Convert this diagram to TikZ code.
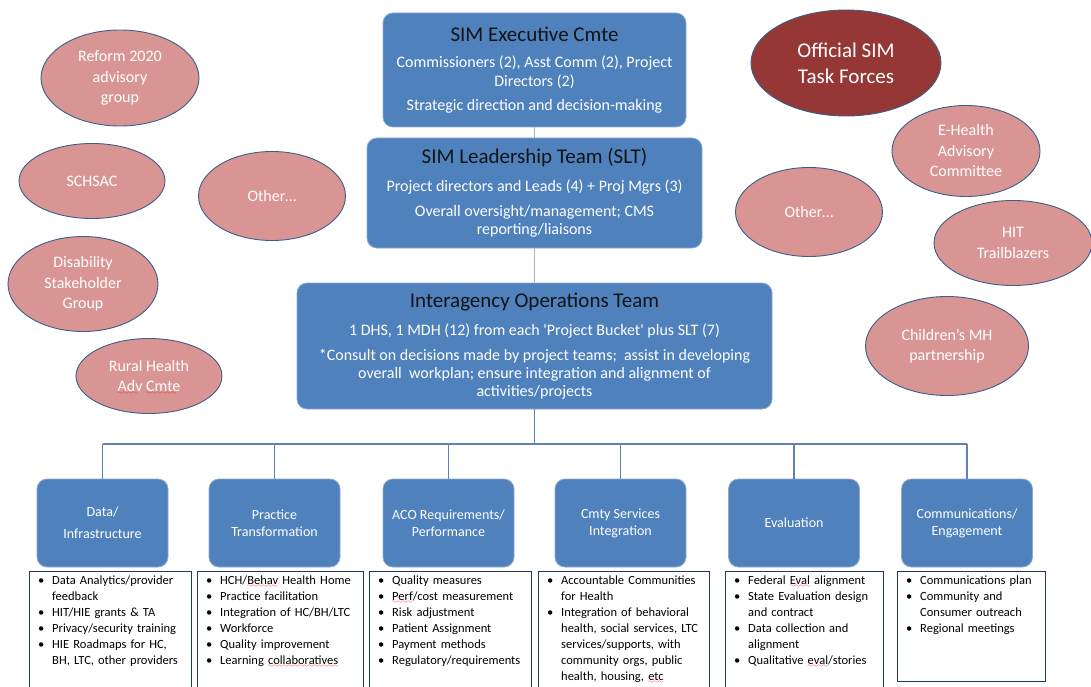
\documentclass[tikz,border=0pt]{standalone}
\usepackage{fontspec}
\setmainfont{Carlito}
\usetikzlibrary{shapes.geometric}
\definecolor{boxblue}{HTML}{4F81BD}
\definecolor{boxedge}{HTML}{8FA8CF}
\definecolor{ovalpink}{HTML}{D99594}
\definecolor{ovaledge}{HTML}{3A5F8B}
\definecolor{taskred}{HTML}{953735}
\definecolor{listedge}{HTML}{22385C}
\definecolor{connblue}{HTML}{5F82B4}
\definecolor{connpale}{HTML}{A3B5CF}
\definecolor{titlecol}{HTML}{141414}
\font\wavefont=lasy6
\newcommand\sperr[1]{\setbox0\hbox{#1}\rlap{\raisebox{-3pt}[0pt][0pt]{\textcolor{red}{\hbox to\wd0{\leaders\hbox{\wavefont\char58}\hfil}}}}#1}
\newcommand\bi[1]{\par\noindent\hangindent=14pt\hangafter=1\makebox[14pt][l]{\textbullet}#1}
\newcommand\titlef{\fontsize{21}{25}\selectfont\color{titlecol}}
\tikzset{
  topbox/.style={draw=boxedge, fill=boxblue, rounded corners=10pt, line width=0.8pt,
    align=center, text=white, inner sep=0pt},
  catbox/.style={draw=boxedge, fill=boxblue, rounded corners=10pt, line width=0.8pt,
    minimum width=131pt, minimum height=88pt, align=center, text=white,
    inner sep=0pt, font=\fontsize{14}{17}\selectfont},
  oval/.style={ellipse, draw=ovaledge, fill=ovalpink, line width=0.9pt, text=white,
    align=center, inner sep=0pt, font=\fontsize{16}{20.5}\selectfont},
  taskoval/.style={oval, fill=taskred, font=\fontsize{21}{26}\selectfont},
  listbox/.style={draw=listedge, line width=1.2pt, anchor=north west, inner sep=0pt, fill=white},
  listtext/.style={anchor=north west, inner sep=0pt, text width=#1, align=left,
    font=\fontsize{12.5}{16}\selectfont},
  conn/.style={draw=connblue, line width=1.6pt},
  connlight/.style={draw=connpale, line width=1.6pt},
}
\begin{document}
\begin{tikzpicture}[x=1pt,y=-1pt]
\useasboundingbox (0,0) rectangle (1091,687);
\clip (0,0) rectangle (1091,687);
\fill[white] (0,0) rectangle (1091,687);

% top boxes
\node[topbox, minimum width=303pt, minimum height=114pt, font=\fontsize{16}{19.5}\selectfont] (exec) at (534.5,70)
  {{\titlef SIM Executive Cmte}\\[6.5pt]
   Commissioners (2), Asst Comm (2), Project\\
   Directors (2)\\[4.5pt]
   Strategic direction and decision-making};
\node[topbox, minimum width=335pt, minimum height=110pt, font=\fontsize{16}{18}\selectfont] (slt) at (534.5,193)
  {{\titlef SIM Leadership Team (SLT)}\\[10pt]
   Project directors and Leads (4) + Proj Mgrs (3)\\[7pt]
   Overall oversight/management; CMS\\
   reporting/liaisons};
\node[topbox, minimum width=475pt, minimum height=126pt, font=\fontsize{16}{18}\selectfont] (iot) at (534.5,346)
  {{\titlef Interagency Operations Team}\\[10pt]
   1 DHS, 1 MDH (12) from each \textquotesingle Project Bucket\textquotesingle\ plus SLT (7)\\[7pt]
   *Consult on decisions made by project teams; \ assist in developing\\
   overall \ workplan; ensure integration and alignment of\\
   activities/projects};

% connectors between top boxes
\draw[connlight] (exec.south) -- (slt.north);
\draw[connlight] (slt.south) -- (iot.north);

% category boxes
\node[catbox] (data) at (102.5,523) {Data/\\[5pt]Infrastructure};
\node[catbox] (prac) at (274.5,523) {Practice\\Transformation};
\node[catbox] (aco)  at (448.5,523) {ACO Requirements/\\Performance};
\node[catbox] (cmty) at (620.5,523) {Cmty Services\\Integration};
\node[catbox] (eval) at (794,523)   {Evaluation};
\node[catbox] (comm) at (967,523)   {Communications/\\Engagement};

% bus
\coordinate (bus) at (534.5,444);
\draw[conn] (iot.south) -- (iot.south |- bus);
\draw[conn] (data.north |- bus) -- (comm.north |- bus);
\foreach \c in {data,prac,aco,cmty,eval,comm}
  \draw[conn] (\c.north |- bus) -- (\c.north);

% list boxes
\node[listbox, minimum width=162pt, minimum height=130pt] (l1) at (29,571) {};
\node[listbox, minimum width=166pt, minimum height=130pt] (l2) at (197,571) {};
\node[listbox, minimum width=162pt, minimum height=130pt] (l3) at (369,571) {};
\node[listbox, minimum width=171pt, minimum height=130pt] (l4) at (538,571) {};
\node[listbox, minimum width=158pt, minimum height=130pt] (l5) at (725,571) {};
\node[listbox, minimum width=148pt, minimum height=110pt] (l6) at (897,571) {};

\node[listtext=160pt] (t1) at ([xshift=9pt,yshift=3pt]l1.north west)
  {\bi{Data Analytics/provider\newline feedback}
   \bi{HIT/HIE grants \& TA}
   \bi{Privacy/security training}
   \bi{HIE Roadmaps for HC,\newline BH, LTC, other providers}\par};
\node[listtext=160pt] (t2) at ([xshift=9pt,yshift=3pt]l2.north west)
  {\bi{HCH/\sperr{Behav} Health Home}
   \bi{Practice facilitation}
   \bi{Integration of HC/BH/LTC}
   \bi{Workforce}
   \bi{Quality improvement}
   \bi{Learning \sperr{collaboratives}}\par};
\node[listtext=160pt] (t3) at ([xshift=9pt,yshift=3pt]l3.north west)
  {\bi{Quality measures}
   \bi{\sperr{Perf}/cost measurement}
   \bi{Risk adjustment}
   \bi{Patient Assignment}
   \bi{Payment methods}
   \bi{Regulatory/requirements}\par};
\node[listtext=165pt] (t4) at ([xshift=9pt,yshift=3pt]l4.north west)
  {\bi{Accountable Communities\newline for Health}
   \bi{Integration of behavioral\newline health, social services, LTC\newline services/supports, with\newline community orgs, public\newline health, housing, \sperr{etc}}\par};
\node[listtext=155pt] (t5) at ([xshift=9pt,yshift=3pt]l5.north west)
  {\bi{Federal \sperr{Eval} alignment}
   \bi{State Evaluation design\newline and contract}
   \bi{Data collection and\newline alignment}
   \bi{Qualitative \sperr{eval}/stories}\par};
\node[listtext=145pt] (t6) at ([xshift=9pt,yshift=3pt]l6.north west)
  {\bi{Communications plan}
   \bi{Community and\newline Consumer outreach}
   \bi{Regional meetings}\par};

% left ovals
\node[oval, minimum width=158pt, minimum height=96pt] (reform) at (120,78) {Reform 2020\\advisory\\group};
\node[oval, minimum width=146pt, minimum height=75pt] (schsac) at (92,181) {SCHSAC};
\node[oval, minimum width=147pt, minimum height=89pt] (otherl) at (272,196) {Other…};
\node[oval, minimum width=150pt, minimum height=95pt] (disab) at (83,284) {Disability\\Stakeholder\\Group};
\node[oval, minimum width=146pt, minimum height=75pt] (rural) at (149,376) {Rural Health\\\sperr{Adv} \sperr{Cmte}};

% right ovals
\node[taskoval, minimum width=190pt, minimum height=106pt] (task) at (846,63) {Official SIM\\Task Forces};
\node[oval, minimum width=148pt, minimum height=91pt] (ehealth) at (966,151) {E-Health\\Advisory\\Committee};
\node[oval, minimum width=147pt, minimum height=89pt] (otherr) at (809,212) {Other…};
\node[oval, minimum width=158pt, minimum height=85pt] (hit) at (1013,243) {HIT\\Trailblazers};
\node[oval, minimum width=163pt, minimum height=99pt] (child) at (947,346) {Children’s MH\\partnership};
\end{tikzpicture}
\end{document}
